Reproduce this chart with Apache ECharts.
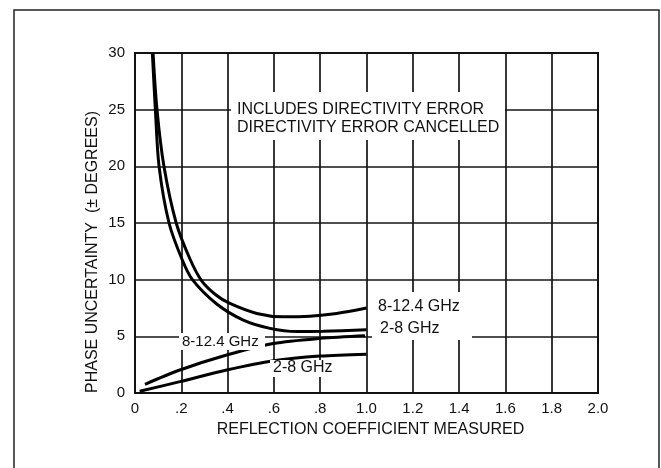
<!DOCTYPE html>
<html>
<head>
<meta charset="utf-8">
<script src="https://cdn.jsdelivr.net/npm/echarts@6/dist/echarts.min.js"></script>
<style>html,body{margin:0;padding:0;background:#fff}#c{width:661px;height:468px}</style>
</head>
<body>
<div id="c"></div>
<script>
// Tick labels
const xTickLabels = ['0', '.2', '.4', '.6', '.8', '1.0', '1.2', '1.4', '1.6', '1.8', '2.0'];
const yTickLabels = ['0', '5', '10', '15', '20', '25', '30'];

// Includes directivity error
const incl_8_12 = [[0.078,30],[0.095,25],[0.125,20],[0.178,15],[0.238,11.8],[0.288,9.9],[0.35,8.65],[0.41,7.9],[0.526,7.02],[0.641,6.72],[0.756,6.78],[0.871,7.02],[1.0,7.5]];
const incl_2_8 = [[0.075,30],[0.088,25],[0.104,20],[0.147,15],[0.203,11.8],[0.248,10],[0.353,7.85],[0.468,6.43],[0.583,5.70],[0.698,5.42],[0.813,5.45],[1.0,5.58]];
// Directivity error cancelled
const canc_8_12 = [[0.043,0.77],[0.194,2.03],[0.396,3.35],[0.598,4.37],[0.799,4.82],[0.994,5.05]];
const canc_2_8 = [[0.02,0.15],[0.194,1.0],[0.396,2.03],[0.598,2.85],[0.799,3.26],[1.0,3.43]];

const FONT = 'Liberation Sans, Arial, sans-serif';
const ink = '#111';

const chart = echarts.init(document.getElementById('c'), null, {renderer: 'canvas'});

function mkSeries(name, data) {
  return {
    name, type: 'line', data, showSymbol: false, symbol: 'none',
    smooth: 0.3, clip: true, z: 3,
    lineStyle: {color: '#000', width: 3}
  };
}

function txt(x, y, s, size, ls) {
  return {type: 'text', x, y, z: 20,
    style: {text: s, font: (size || 16) + 'px ' + FONT, fill: ink, textAlign: 'left', textVerticalAlign: 'middle', letterSpacing: ls || 0}};
}
function wbox(x, y, w, h) {
  return {type: 'rect', z: 10, shape: {x, y, width: w, height: h}, style: {fill: '#fff'}};
}

chart.setOption({
  animation: false,
  backgroundColor: '#fff',
  grid: {left: 135, right: 63, top: 53, bottom: 75, show: true, borderColor: '#111', borderWidth: 2},
  xAxis: {
    type: 'value', min: 0, max: 2, interval: 0.2,
    name: 'REFLECTION COEFFICIENT MEASURED', nameLocation: 'middle', nameGap: 29,
    nameTextStyle: {fontFamily: FONT, fontSize: 16, color: ink, letterSpacing: 2.6, padding: [0, 0, 0, 8]},
    axisLine: {show: true, lineStyle: {color: '#111', width: 2}},
    axisTick: {show: false},
    axisLabel: {margin: 8, fontFamily: FONT, fontSize: 15, color: ink,
      formatter: v => xTickLabels[Math.round(v / 0.2)]},
    splitLine: {show: true, lineStyle: {color: '#151515', width: 1.7}}
  },
  yAxis: {
    type: 'value', min: 0, max: 30, interval: 5,
    axisLine: {show: true, lineStyle: {color: '#111', width: 2}},
    axisTick: {show: false},
    axisLabel: {margin: 10, fontFamily: FONT, fontSize: 15, color: ink,
      formatter: v => yTickLabels[Math.round(v / 5)]},
    splitLine: {show: true, lineStyle: {color: '#151515', width: 1.7}}
  },
  series: [
    mkSeries('8-12.4 GHz incl', incl_8_12),
    mkSeries('2-8 GHz incl', incl_2_8),
    mkSeries('8-12.4 GHz canc', canc_8_12),
    mkSeries('2-8 GHz canc', canc_2_8)
  ],
  graphic: [
    {type: 'rect', z: 30, shape: {x: 14, y: 10, width: 645, height: 470}, style: {fill: 'none', stroke: '#222', lineWidth: 1.5}},
    {type: 'text', x: 93, y: 252, rotation: Math.PI / 2, z: 20,
      style: {text: 'PHASE UNCERTAINTY  (± DEGREES)', font: '16px ' + FONT, fill: ink, textAlign: 'center', textVerticalAlign: 'middle', letterSpacing: 1.6}},
    wbox(231, 92, 274, 48),
    txt(237, 110, 'INCLUDES DIRECTIVITY ERROR', 16),
    txt(237, 128, 'DIRECTIVITY ERROR CANCELLED', 16),
    wbox(372, 292, 100, 48),
    txt(378, 307, '8-12.4 GHz', 16, 0.6),
    txt(380, 329, '2-8 GHz', 16, 2.2),
    wbox(179, 333, 86, 17),
    txt(182, 342, '8-12.4 GHz', 15),
    wbox(270, 360, 72, 17),
    txt(273, 368, '2-8 GHz', 16, 1.8)
  ]
});
</script>
</body>
</html>
